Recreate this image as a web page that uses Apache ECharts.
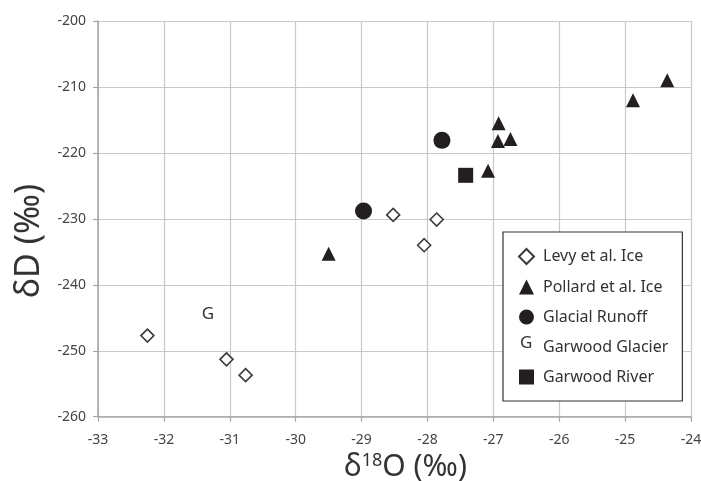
<!DOCTYPE html>
<html>
<head>
<meta charset="utf-8">
<script src="https://cdn.jsdelivr.net/npm/echarts@6/dist/echarts.min.js"></script>
<style>
html,body{margin:0;padding:0;background:#fff;}
#chart{width:701px;height:481px;}
</style>
</head>
<body>
<div id="chart"></div>
<script>
// Data
var levyX = [-32.25, -31.05, -30.76, -28.52, -28.05, -27.86];
var levyY = [-247.7, -251.3, -253.7, -229.4, -234.0, -230.1];
var pollardX = [-29.5, -27.08, -26.93, -26.92, -26.74, -24.88, -24.36];
var pollardY = [-235.3, -222.7, -218.2, -215.5, -217.9, -212.0, -209.0];
var runoffX = [-28.97, -27.78];
var runoffY = [-228.8, -218.1];
var glacierX = [-31.33];
var glacierY = [-244.4];
var riverX = [-27.42];
var riverY = [-223.4];
var seriesNames = ['Levy et al. Ice', 'Pollard et al. Ice', 'Glacial Runoff', 'Garwood Glacier', 'Garwood River'];
var xTicks = [-33, -32, -31, -30, -29, -28, -27, -26, -25, -24];
var yTicks = [-260, -250, -240, -230, -220, -210, -200];

function pairs(xs, ys) { return xs.map(function (x, i) { return [x, ys[i]]; }); }
function tickText(v) { return String(v); }

var FONT = '"Noto Sans", sans-serif';
var DARK = '#231f20';

var chart = echarts.init(document.getElementById('chart'), null, {renderer: 'canvas'});
chart.setOption({
  animation: false,
  backgroundColor: '#ffffff',
  grid: {left: 98, right: 10, top: 21, bottom: 64.3, containLabel: false, outerBoundsMode: 'none'},
  xAxis: {
    type: 'value',
    min: xTicks[0], max: xTicks[xTicks.length - 1], interval: 1,
    name: '{a|\u03b4}{s|18}{a|O (\u2030)}',
    nameLocation: 'middle', nameGap: 4,
    nameTextStyle: {
      padding: [0, 0, 0, 22],
      rich: {
        a: {fontFamily: FONT, fontSize: 30, color: '#333', lineHeight: 32},
        s: {fontFamily: FONT, fontSize: 18, color: '#333', verticalAlign: 'top', lineHeight: 32, padding: [0, 0, 10, 0]}
      }
    },
    axisLine: {show: true, lineStyle: {color: '#a6a6a6', width: 1.5}},
    axisTick: {show: true, length: 5, lineStyle: {color: '#a6a6a6', width: 1.2}},
    axisLabel: {margin: 16, fontFamily: FONT, fontSize: 14, color: '#444', formatter: tickText},
    splitLine: {show: true, lineStyle: {color: '#c9c9c9', width: 1.2}}
  },
  yAxis: {
    type: 'value',
    min: yTicks[0], max: yTicks[yTicks.length - 1], interval: 10,
    name: '\u03b4D (\u2030)',
    nameLocation: 'middle', nameGap: 39,
    nameTextStyle: {fontFamily: FONT, fontSize: 34, color: '#333', padding: [0, 44, 0, 0]},
    axisLine: {show: true, lineStyle: {color: '#a6a6a6', width: 1.5}},
    axisTick: {show: true, length: 5, lineStyle: {color: '#a6a6a6', width: 1.2}},
    axisLabel: {margin: 12, fontFamily: FONT, fontSize: 14, color: '#444', formatter: tickText},
    splitLine: {show: true, lineStyle: {color: '#c9c9c9', width: 1.2}}
  },
  legend: {
    orient: 'vertical',
    left: 503, top: 232,
    padding: [16, 14, 16, 15],
    itemWidth: 15, itemHeight: 15, itemGap: 14,
    backgroundColor: '#ffffff',
    borderColor: '#333333', borderWidth: 1.2,
    textStyle: {fontFamily: FONT, fontSize: 16, color: '#333', padding: [0, 0, 0, 4]},
    data: seriesNames
  },
  graphic: [{
    type: 'text', left: 520, top: 335, z: 100,
    style: {text: 'G', fontFamily: FONT, fontSize: 17, fill: '#333'}
  }],
  series: [
    {
      name: seriesNames[0], type: 'scatter', symbol: 'diamond', symbolSize: 13,
      itemStyle: {color: '#ffffff', borderColor: '#3a3a3a', borderWidth: 1.6, opacity: 1},
      data: pairs(levyX, levyY), z: 3
    },
    {
      name: seriesNames[1], type: 'scatter', symbol: 'triangle', symbolSize: 14,
      itemStyle: {color: DARK, opacity: 1},
      data: pairs(pollardX, pollardY), z: 3
    },
    {
      name: seriesNames[2], type: 'scatter', symbol: 'circle', symbolSize: 17,
      itemStyle: {color: DARK, opacity: 1},
      data: pairs(runoffX, runoffY), z: 3
    },
    {
      name: seriesNames[3], type: 'scatter', symbol: 'circle', symbolSize: 2,
      itemStyle: {color: 'rgba(0,0,0,0)', opacity: 1},
      label: {show: true, position: 'inside', formatter: 'G', fontFamily: FONT, fontSize: 17, color: '#333'},
      data: pairs(glacierX, glacierY), z: 3
    },
    {
      name: seriesNames[4], type: 'scatter', symbol: 'rect', symbolSize: 15,
      itemStyle: {color: DARK, opacity: 1},
      data: pairs(riverX, riverY), z: 3
    }
  ]
});
</script>
</body>
</html>
